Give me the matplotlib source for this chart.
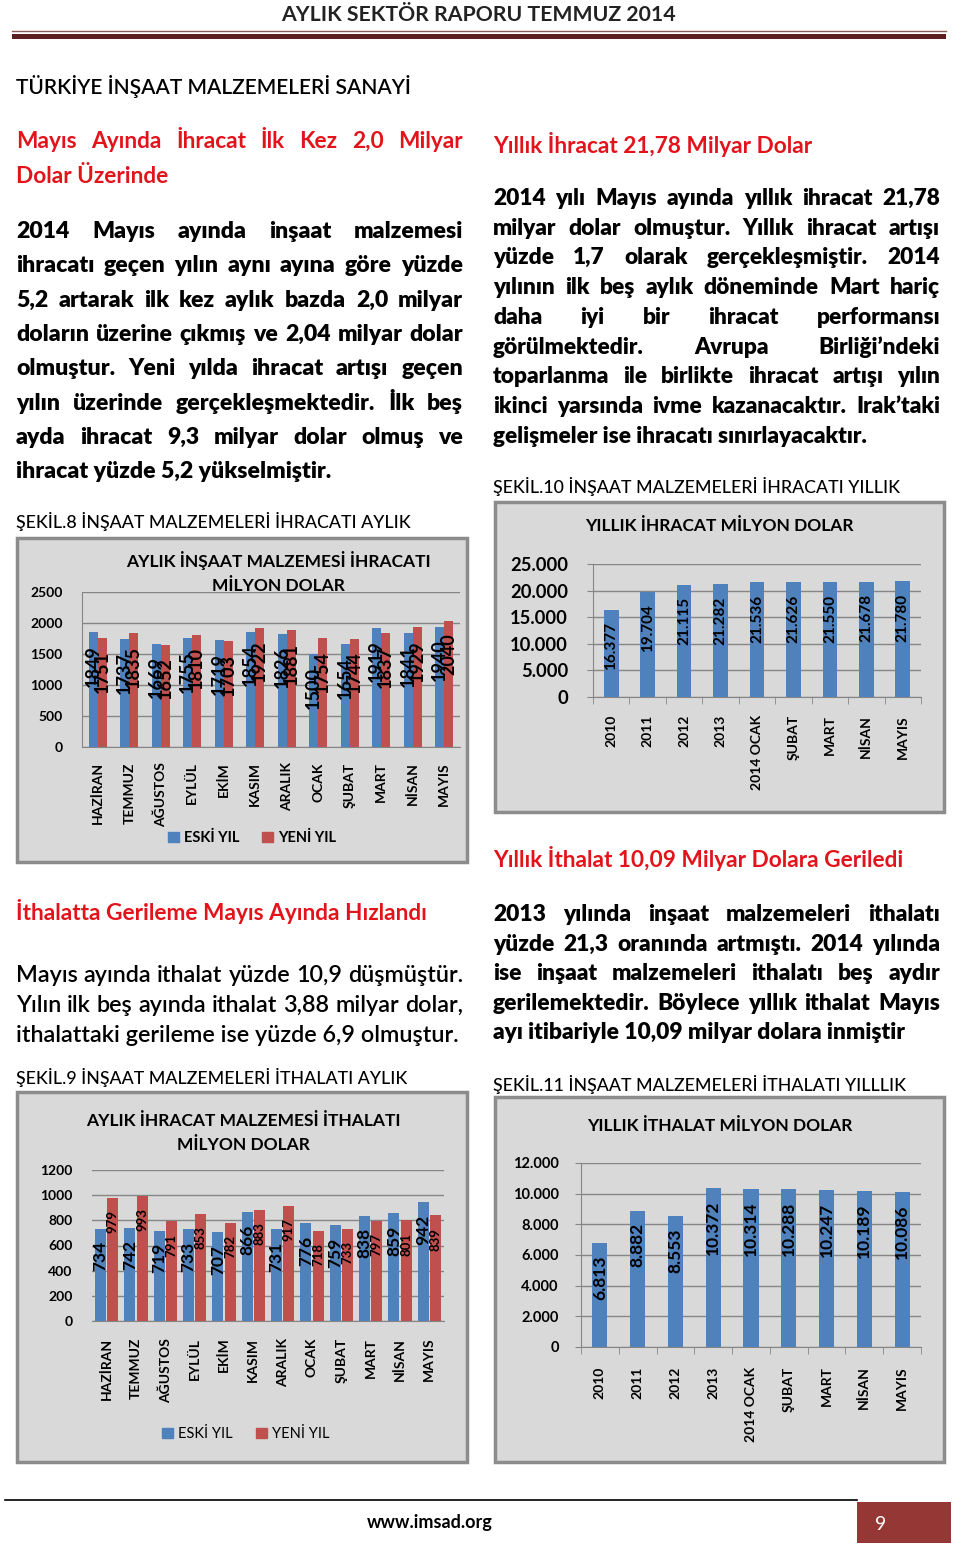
import matplotlib
matplotlib.use('Agg')
import matplotlib.pyplot as plt
from matplotlib.patches import Rectangle

plt.rcParams['font.family'] = ['Lato', 'DejaVu Sans']

# chart data
months = ['HAZİRAN', 'TEMMUZ', 'AĞUSTOS', 'EYLÜL', 'EKİM', 'KASIM',
          'ARALIK', 'OCAK', 'ŞUBAT', 'MART', 'NİSAN', 'MAYIS']
exp_old = [1849, 1737, 1669, 1755, 1719, 1854, 1826, 1500, 1654, 1919, 1841, 1940]
exp_new = [1751, 1835, 1652, 1810, 1703, 1922, 1881, 1754, 1744, 1837, 1929, 2040]
imp_old = [734, 742, 719, 733, 707, 866, 731, 776, 759, 838, 859, 942]
imp_new = [979, 993, 791, 853, 782, 883, 917, 718, 733, 797, 801, 839]
years = ['2010', '2011', '2012', '2013', '2014 OCAK', 'ŞUBAT', 'MART', 'NİSAN', 'MAYIS']
exp_year = [16377, 19704, 21115, 21282, 21536, 21626, 21550, 21678, 21780]
imp_year = [6813, 8882, 8553, 10372, 10314, 10288, 10247, 10189, 10086]
legend_labels = ['ESKİ YIL', 'YENİ YIL']

# page text
left_head = ['Mayıs Ayında İhracat İlk Kez 2,0 Milyar', 'Dolar Üzerinde']
left_body = ['2014 Mayıs ayında inşaat malzemesi',
             'ihracatı geçen yılın aynı ayına göre yüzde',
             '5,2 artarak ilk kez aylık bazda 2,0 milyar',
             'doların üzerine çıkmış ve 2,04 milyar dolar',
             'olmuştur. Yeni yılda ihracat artışı geçen',
             'yılın üzerinde gerçekleşmektedir. İlk beş',
             'ayda ihracat 9,3 milyar dolar olmuş ve',
             'ihracat yüzde 5,2 yükselmiştir.']
right_body = ['2014 yılı Mayıs ayında yıllık ihracat 21,78',
              'milyar dolar olmuştur. Yıllık ihracat artışı',
              'yüzde 1,7 olarak gerçekleşmiştir. 2014',
              'yılının ilk beş aylık döneminde Mart hariç',
              'daha iyi bir ihracat performansı',
              'görülmektedir. Avrupa Birliği’ndeki',
              'toparlanma ile birlikte ihracat artışı yılın',
              'ikinci yarsında ivme kazanacaktır. Irak’taki',
              'gelişmeler ise ihracatı sınırlayacaktır.']
imp_body = ['Mayıs ayında ithalat yüzde 10,9 düşmüştür.',
            'Yılın ilk beş ayında ithalat 3,88 milyar dolar,',
            'ithalattaki gerileme ise yüzde 6,9 olmuştur.']
right_body2 = ['2013 yılında inşaat malzemeleri ithalatı',
               'yüzde 21,3 oranında artmıştı. 2014 yılında',
               'ise inşaat malzemeleri ithalatı beş aydır',
               'gerilemektedir. Böylece yıllık ithalat Mayıs',
               'ayı itibariyle 10,09 milyar dolara inmiştir']

RED = '#e3131b'
BLUE = '#4f81bd'
BRED = '#c0504d'
BG = '#d9d9d9'
GRID = '#868686'

W, H = 960, 1547
fig = plt.figure(figsize=(9.6, 15.47), dpi=100)
page = fig.add_axes([0, 0, 1, 1], zorder=0)
page.set_xlim(0, W)
page.set_ylim(H, 0)
page.axis('off')
renderer = fig.canvas.get_renderer()


def justify(line, x0, x1, y, size, weight='bold', color='black'):
    words = line.split()
    objs = [page.text(0, y, w, fontsize=size, fontweight=weight, color=color,
                      va='baseline', ha='left') for w in words]
    widths = [o.get_window_extent(renderer).width for o in objs]
    gap = (x1 - x0 - sum(widths)) / (len(words) - 1)
    x = x0
    for o, w in zip(objs, widths):
        o.set_x(x)
        x += w + gap


def para(lines, x0, x1, y0, step, size, weight='heavy', color='black'):
    for i, ln in enumerate(lines):
        y = y0 + i * step
        if i < len(lines) - 1:
            justify(ln, x0, x1, y, size, weight, color)
        else:
            page.text(x0, y, ln, fontsize=size, fontweight=weight, color=color, va='baseline')


# header
page.text(478, 21, 'AYLIK SEKTÖR RAPORU TEMMUZ 2014', ha='center', va='baseline',
          fontsize=15.3, fontweight='bold', color='#222222')
page.plot([12, 946], [31, 31], color='#8a5a5a', lw=1)
page.add_patch(Rectangle((12, 34), 934, 4.5, facecolor='#5b1f1f', edgecolor='none'))
page.text(16, 94, 'TÜRKİYE İNŞAAT MALZEMELERİ SANAYİ', va='baseline', fontsize=15,
          fontweight='semibold')

# left column
justify(left_head[0], 16, 463, 148, 16.3, color=RED)
page.text(16, 183, left_head[1], va='baseline', fontsize=16.3, fontweight='bold', color=RED)
para(left_body, 16, 463, 238, 34.3, 16.6)
page.text(16, 528, 'ŞEKİL.8 İNŞAAT MALZEMELERİ İHRACATI AYLIK', va='baseline',
          fontsize=12.8, fontweight='medium')

page.text(16, 920, 'İthalatta Gerileme Mayıs Ayında Hızlandı', va='baseline',
          fontsize=16.3, fontweight='bold', color=RED)
para(imp_body, 16, 463, 982, 29.8, 16.8, weight='semibold')
page.text(16, 1084, 'ŞEKİL.9 İNŞAAT MALZEMELERİ İTHALATI AYLIK', va='baseline',
          fontsize=12.8, fontweight='medium')

# right column
page.text(493, 153, 'Yıllık İhracat 21,78 Milyar Dolar', va='baseline',
          fontsize=16.3, fontweight='bold', color=RED)
para(right_body, 493, 940, 205, 29.7, 16.3)
page.text(493, 493, 'ŞEKİL.10 İNŞAAT MALZEMELERİ İHRACATI YILLIK', va='baseline',
          fontsize=12.8, fontweight='medium')

page.text(493, 867, 'Yıllık İthalat 10,09 Milyar Dolara Geriledi', va='baseline',
          fontsize=16.3, fontweight='bold', color=RED)
para(right_body2, 493, 940, 921, 29.6, 16.4)
page.text(493, 1091, 'ŞEKİL.11 İNŞAAT MALZEMELERİ İTHALATI YILLLIK', va='baseline',
          fontsize=12.8, fontweight='medium')

# footer
page.plot([5, 857], [1500, 1500], color='black', lw=1.2)
page.text(430, 1528, 'www.imsad.org', ha='center', va='baseline', fontsize=13, fontweight='bold')
page.add_patch(Rectangle((857, 1502), 94, 41, facecolor='#953735', edgecolor='none'))
page.text(875, 1530, '9', va='baseline', fontsize=14, color='white')

# chart frames
for x0, y0, x1, y1 in [(17, 538, 467, 862), (495, 502, 944, 812),
                       (17, 1092, 467, 1462), (495, 1097, 944, 1462)]:
    page.add_patch(Rectangle((x0, y0), x1 - x0, y1 - y0, facecolor=BG,
                             edgecolor='#8c8c8c', lw=2.5))


def make_ax(x0, y0, x1, y1):
    ax = fig.add_axes([x0 / W, 1 - y1 / H, (x1 - x0) / W, (y1 - y0) / H], zorder=2)
    ax.set_facecolor('none')
    for s in ['top', 'right']:
        ax.spines[s].set_visible(False)
    ax.spines['bottom'].set_color(GRID)
    ax.spines['left'].set_color(GRID)
    ax.grid(axis='y', color=GRID, lw=1)
    ax.set_axisbelow(True)
    return ax


def fmt(v, dot):
    return f'{v:,}'.replace(',', '.') if dot else str(v)


def bar_labels(ax, xs, vals, size, dot=False, off=-9):
    for x, v in zip(xs, vals):
        ax.annotate(fmt(v, dot), (x, v), xytext=(0, off), textcoords='offset points',
                    rotation=90, ha='center', va='top', fontsize=size,
                    fontweight='bold', color='black')


def legend(ax, cx, cy, weight):
    hs = [Rectangle((0, 0), 1, 1, color=BLUE), Rectangle((0, 0), 1, 1, color=BRED)]
    ax.legend(hs, legend_labels, loc='center', bbox_to_anchor=(cx / W, 1 - cy / H),
              bbox_transform=fig.transFigure, ncol=2, frameon=False,
              prop=dict(size=10.5, weight=weight), handlelength=0.75, handleheight=0.75,
              handletextpad=0.35, columnspacing=1.6)


# chart 1: monthly exports
ax1 = make_ax(82, 592, 460, 747)
xs = range(len(months))
ax1.bar([i - 0.143 for i in xs], exp_old, 0.285, color=BLUE)
ax1.bar([i + 0.143 for i in xs], exp_new, 0.285, color=BRED)
bar_labels(ax1, [i - 0.143 for i in xs], exp_old, 13)
bar_labels(ax1, [i + 0.143 for i in xs], exp_new, 13)
ax1.set_xlim(-0.5, len(months) - 0.5)
ax1.set_ylim(0, 2500)
ax1.set_yticks(range(0, 2501, 500))
ax1.set_xticks(list(xs))
ax1.set_xticklabels(months, rotation=90, fontsize=10, fontweight='bold')
ax1.tick_params(axis='y', length=0, pad=14, labelsize=10)
ax1.tick_params(axis='x', length=0, pad=11)
for t in ax1.get_yticklabels():
    t.set_fontweight('bold')
page.text(278, 561, 'AYLIK İNŞAAT MALZEMESİ İHRACATI', ha='center', va='center',
          fontsize=12.5, fontweight='bold')
fig.text(278 / W, 1 - 586 / H, 'MİLYON DOLAR', ha='center', va='center',
         fontsize=12.5, fontweight='bold', zorder=5)
legend(ax1, 252, 838, 'bold')

# chart 2: yearly exports
ax2 = make_ax(593, 564, 921, 697)
xs2 = range(len(years))
ax2.bar(list(xs2), exp_year, 0.4, color=BLUE)
bar_labels(ax2, list(xs2), exp_year, 11, dot=True)
ax2.set_xlim(-0.5, len(years) - 0.5)
ax2.set_ylim(0, 25000)
ax2.set_yticks(range(0, 25001, 5000))
ax2.set_yticklabels([fmt(v, True) for v in range(0, 25001, 5000)], fontsize=13.2, fontweight='bold')
ax2.set_xticks(list(xs2))
ax2.set_xticklabels(years, rotation=90, fontsize=10, fontweight='bold')
ax2.set_xticks([i - 0.5 for i in range(len(years) + 1)], minor=True)
ax2.tick_params(axis='x', which='major', length=0, pad=13)
ax2.tick_params(axis='x', which='minor', length=5, color=GRID)
ax2.tick_params(axis='y', length=4, color=GRID, pad=14)
page.text(719, 526, 'YILLIK İHRACAT MİLYON DOLAR', ha='center', va='center',
          fontsize=12.5, fontweight='bold')

# chart 3: monthly imports
ax3 = make_ax(92, 1170, 444, 1321)
ax3.bar([i - 0.205 for i in xs], imp_old, 0.375, color=BLUE)
ax3.bar([i + 0.205 for i in xs], imp_new, 0.375, color=BRED)
bar_labels(ax3, [i - 0.205 for i in xs], imp_old, 12.5)
bar_labels(ax3, [i + 0.205 for i in xs], imp_new, 9.5)
ax3.set_xlim(-0.5, len(months) - 0.5)
ax3.set_ylim(0, 1200)
ax3.set_yticks(range(0, 1201, 200))
ax3.set_xticks(list(xs))
ax3.set_xticklabels(months, rotation=90, fontsize=10, fontweight='bold')
ax3.spines['left'].set_visible(False)
ax3.tick_params(axis='y', length=0, pad=14, labelsize=10)
ax3.tick_params(axis='x', length=0, pad=12)
for t in ax3.get_yticklabels():
    t.set_fontweight('bold')
page.text(243, 1121, 'AYLIK İHRACAT MALZEMESİ İTHALATI', ha='center', va='center',
          fontsize=12.5, fontweight='bold')
page.text(243, 1145, 'MİLYON DOLAR', ha='center', va='center',
          fontsize=12.5, fontweight='bold')
legend(ax3, 246, 1434, 'normal')

# chart 4: yearly imports
ax4 = make_ax(581, 1163, 921, 1347)
ax4.bar(list(xs2), imp_year, 0.4, color=BLUE)
bar_labels(ax4, list(xs2), imp_year, 12.5, dot=True)
ax4.set_xlim(-0.5, len(years) - 0.5)
ax4.set_ylim(0, 12000)
ax4.set_yticks(range(0, 12001, 2000))
ax4.set_yticklabels([fmt(v, True) for v in range(0, 12001, 2000)], fontsize=10.5, fontweight='bold')
ax4.set_xticks(list(xs2))
ax4.set_xticklabels(years, rotation=90, fontsize=10, fontweight='bold')
ax4.set_xticks([i - 0.5 for i in range(len(years) + 1)], minor=True)
ax4.tick_params(axis='x', which='major', length=0, pad=14)
ax4.tick_params(axis='x', which='minor', length=5, color=GRID)
ax4.tick_params(axis='y', length=4, color=GRID, pad=12)
page.text(720, 1126, 'YILLIK İTHALAT MİLYON DOLAR', ha='center', va='center',
          fontsize=12.5, fontweight='bold')

fig.savefig('out.png', dpi=100)
